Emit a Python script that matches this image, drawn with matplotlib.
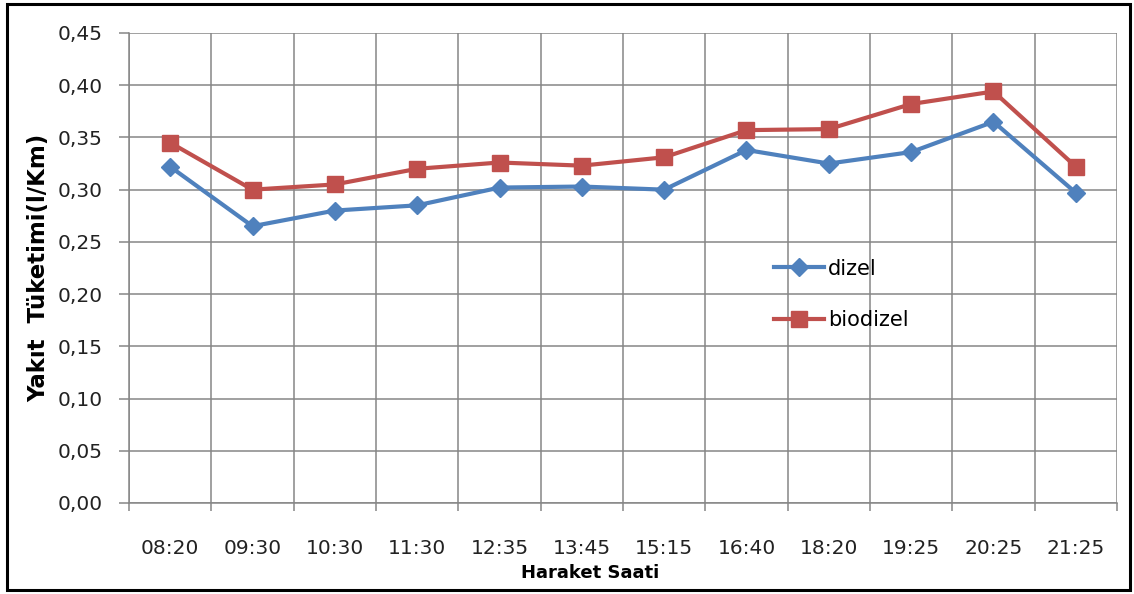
import matplotlib.pyplot as plt
from matplotlib.patches import Rectangle
import numpy as np

saatler = ['08:20', '09:30', '10:30', '11:30', '12:35', '13:45',
           '15:15', '16:40', '18:20', '19:25', '20:25', '21:25']
dizel = [0.322, 0.265, 0.280, 0.285, 0.302, 0.303,
         0.300, 0.338, 0.325, 0.336, 0.365, 0.297]
biodizel = [0.345, 0.300, 0.305, 0.320, 0.326, 0.323,
            0.331, 0.357, 0.358, 0.382, 0.394, 0.322]
y_ticks = [0.00, 0.05, 0.10, 0.15, 0.20, 0.25, 0.30, 0.35, 0.40, 0.45]

plt.rcParams['font.family'] = ['DejaVu Sans']

W, H = 1134, 594
fig = plt.figure(figsize=(W / 100, H / 100), dpi=100)
ax = fig.add_axes([129 / W, 1 - 503 / H, (1117 - 129) / W, (503 - 33) / H])

x = np.arange(len(saatler))
ax.plot(x, dizel, color='#4F81BD', lw=3.0, marker='D', ms=9,
        label='dizel', zorder=3)
ax.plot(x, biodizel, color='#C0504D', lw=3.0, marker='s', ms=12,
        label='biodizel', zorder=3)

ax.set_xlim(-0.5, len(saatler) - 0.5)
ax.set_ylim(0, 0.45)

# izgara
gri = '#868686'
ax.set_yticks(y_ticks)
ax.set_yticklabels([('%.2f' % v).replace('.', ',') for v in y_ticks])
ax.set_xticks(x)
ax.set_xticklabels(saatler)
ax.set_xticks(np.arange(-0.5, len(saatler)), minor=True)
ax.grid(True, axis='y', which='major', color=gri, lw=1.1)
ax.grid(True, axis='x', which='minor', color=gri, lw=1.1)
ax.tick_params(axis='x', which='major', length=0, pad=26, labelsize=14.5,
               labelcolor='#222222')
ax.tick_params(axis='x', which='minor', length=6, width=1.1,
               color=gri, direction='out')
ax.tick_params(axis='y', length=7, width=1.1, color=gri,
               pad=12, labelsize=14.5, labelcolor='#222222')
for s in ax.spines.values():
    s.set_visible(False)
for k in ('left', 'bottom'):
    ax.spines[k].set_visible(True)
    ax.spines[k].set_color(gri)
    ax.spines[k].set_linewidth(1.1)

ax.set_ylabel('Yakıt  Tüketimi(l/Km)', fontsize=16.5, fontweight='bold',
              labelpad=5)
fig.text(590 / W, 1 - 573 / H, 'Haraket Saati', fontsize=13,
         fontweight='bold', ha='center', va='center')

ax.legend(loc='upper left',
          bbox_to_anchor=((755 - 129) / (1117 - 129), (503 - 240) / (503 - 33)),
          frameon=False, fontsize=15, handlelength=2.4,
          labelspacing=1.5, handletextpad=0.2)

# resmin etrafindaki siyah cerceve
fig.patches.append(Rectangle((7 / W, 4 / H), (1130 - 7) / W, (590 - 4) / H,
                             transform=fig.transFigure, fill=False,
                             edgecolor='black', lw=2.2))

fig.savefig('out.png', dpi=100)
